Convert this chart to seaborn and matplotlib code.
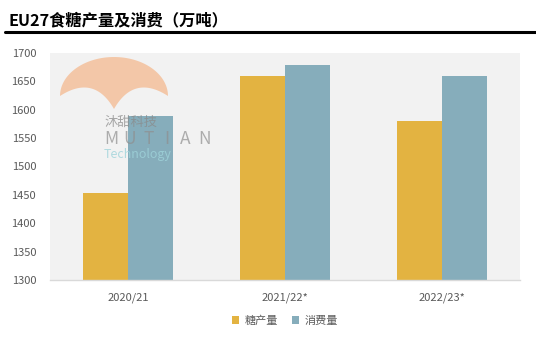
import matplotlib
matplotlib.use("Agg")
import matplotlib.pyplot as plt
import seaborn as sns
import pandas as pd
import numpy as np
from matplotlib.patches import Patch, Polygon

categories = ["2020/21", "2021/22*", "2022/23*"]
series_names = ["糖产量", "消费量"]
production = [1453, 1660, 1580]
consumption = [1589, 1679, 1660]
yticks = [1300, 1350, 1400, 1450, 1500, 1550, 1600, 1650, 1700]

df = pd.DataFrame({
    "cat": categories * 2,
    "series": [series_names[0]] * 3 + [series_names[1]] * 3,
    "value": production + consumption,
})

sns.set_theme(style="white")
plt.rcParams['font.family'] = ['Noto Sans CJK SC', 'DejaVu Sans']

fig = plt.figure(figsize=(5.36, 3.43), dpi=100)
W, H = 536, 343
ax = fig.add_axes([50 / W, 1 - 280 / H, 470 / W, 227 / H])
ax.set_facecolor("#F2F2F2")

palette = {series_names[0]: "#E3B341", series_names[1]: "#86ADBB"}
sns.barplot(data=df, x="cat", y="value", hue="series", palette=palette,
            width=0.574, ax=ax, saturation=1, legend=False, linewidth=0,
            edgecolor="none")

ax.set_ylim(1300, 1700)
ax.set_yticks(yticks)
ax.set_xlim(-0.5, 2.5)
ax.set_xlabel("")
ax.set_ylabel("")
for s in ["top", "right", "left"]:
    ax.spines[s].set_visible(False)
ax.spines["bottom"].set_color("#D9D9D9")
ax.spines["bottom"].set_linewidth(1)
ax.tick_params(axis="both", length=0, labelsize=8, colors="#595959")
ax.tick_params(axis="y", pad=10)
ax.tick_params(axis="x", pad=9)
ax.grid(False)

# Title and rule
fig.text(8 / W, 1 - 20 / H, "EU27食糖产量及消费（万吨）", fontsize=11.7,
         fontweight="bold", va="center", ha="left", color="black")
fig.add_artist(plt.Line2D([5 / W, 1.0], [1 - 32 / H, 1 - 32 / H],
                          color="black", lw=2.2, transform=fig.transFigure))

# Watermark logo (decorative)
def px(x, y):
    return (x / W, 1 - y / H)

t = np.linspace(0, np.pi, 60)
top = [px(114 + 54 * np.cos(a), 96 - 39 * np.sin(a)) for a in t]
s = np.linspace(0, 1, 30)
def bez(p0, c, p2):
    return [px((1 - u) ** 2 * p0[0] + 2 * (1 - u) * u * c[0] + u ** 2 * p2[0],
               (1 - u) ** 2 * p0[1] + 2 * (1 - u) * u * c[1] + u ** 2 * p2[1]) for u in s]
left = bez((60, 96), (94, 74), (114, 109))
right = bez((114, 109), (134, 74), (168, 96))
poly = Polygon(top + left + right, closed=True, facecolor="#F4C3A0", edgecolor="none",
               alpha=0.9, transform=fig.transFigure, zorder=5)
fig.add_artist(poly)

fig.text(104 / W, 1 - 122 / H, "沐甜科技", fontsize=9.5, color="#8A8A8A",
         ha="left", va="center", alpha=0.75, zorder=6)
for i, ch in enumerate("MUTIAN"):
    fig.text((111 + i * 18.6) / W, 1 - 139 / H, ch, fontsize=12.5, color="#8F8F8F",
             ha="center", va="center", alpha=0.7, zorder=6, fontweight="light")
fig.text(104 / W, 1 - 155 / H, "Technology", fontsize=9, color="#9FD3DA",
         ha="left", va="center", alpha=0.8, zorder=6)

# Legend
handles = [Patch(facecolor=palette[n], edgecolor="none") for n in series_names]
leg = fig.legend(handles, series_names, loc="center", bbox_to_anchor=(285 / W, 1 - 321 / H),
                 ncol=2, frameon=False, fontsize=8, handlelength=0.7, handleheight=0.7,
                 handletextpad=0.5, columnspacing=1.2)
for tx in leg.get_texts():
    tx.set_color("#595959")

fig.savefig("out.png", dpi=100)
